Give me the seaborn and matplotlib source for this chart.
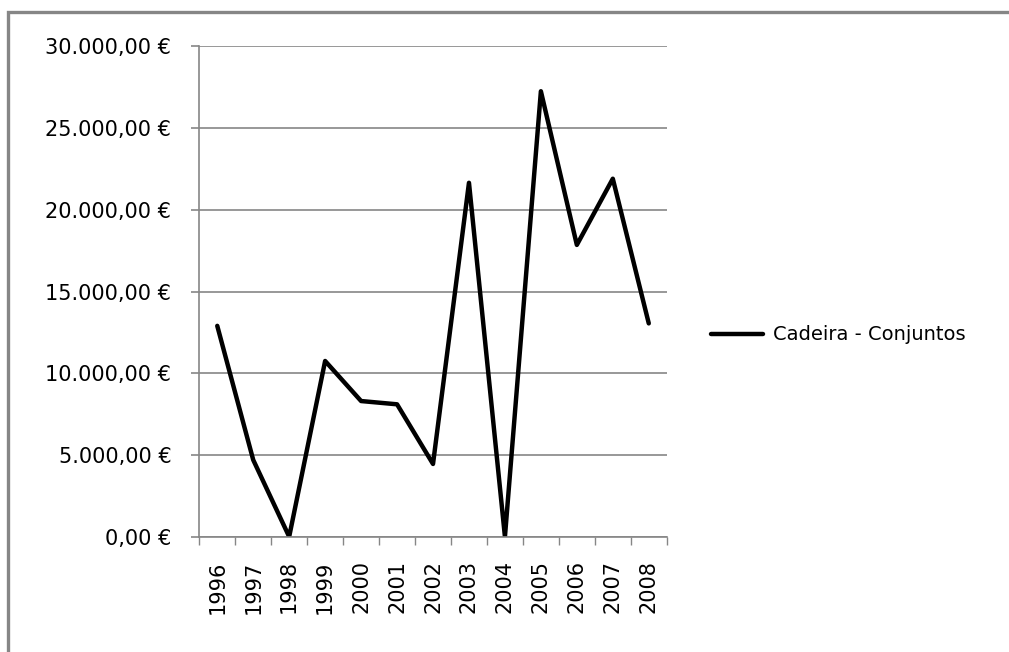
"""
Cadeira - Conjuntos: yearly values 1996-2008 (line chart, euro axis).
"""

import numpy as np
import pandas as pd
import matplotlib
matplotlib.use('Agg')
import matplotlib.pyplot as plt
from matplotlib.patches import Rectangle
from matplotlib.ticker import FuncFormatter
import seaborn as sns

years  = ["1996", "1997", "1998", "1999", "2000", "2001", "2002",
          "2003", "2004", "2005", "2006", "2007", "2008"]
values = [12900, 4700, 0, 10750, 8300, 8100, 4450,
          21650, 0, 27250, 17850, 21900, 13050]
series_name = "Cadeira - Conjuntos"
y_ticks = [0, 5000, 10000, 15000, 20000, 25000, 30000]

GRID = '#868686'


def euro_fmt(v, _pos):
    # 30000 -> "30.000,00 €"
    s = f"{v:,.2f}".replace(",", "X").replace(".", ",").replace("X", ".")
    return s + " €"


def main():
    sns.set_style("white")
    plt.rcParams['font.family'] = ['DejaVu Sans']
    plt.rcParams['text.color'] = 'black'

    df = pd.DataFrame({"Ano": years, "Valor": values})

    fig = plt.figure(figsize=(10.09, 6.52), dpi=100)
    ax = fig.add_axes([0.1975, 0.1768, 0.4633, 0.7522])

    sns.lineplot(data=df, x="Ano", y="Valor", ax=ax, color='black',
                 linewidth=3.2, label=series_name, sort=False)

    ax.set_xlim(-0.5, len(years) - 0.5)
    ax.set_ylim(0, 30000)
    ax.set_yticks(y_ticks)
    ax.yaxis.set_major_formatter(FuncFormatter(euro_fmt))
    ax.grid(axis='y', color=GRID, linewidth=1.2)
    ax.set_axisbelow(True)

    ax.set_xticks(range(len(years)))
    ax.set_xticklabels(years, rotation=90)
    ax.set_xticks(np.arange(-0.5, len(years), 1), minor=True)
    ax.tick_params(axis='x', which='major', length=0, pad=17,
                   labelsize=15, labelcolor='black')
    ax.tick_params(axis='x', which='minor', length=6, width=1.0,
                   color=GRID, direction='out', bottom=True)
    ax.tick_params(axis='y', length=6, width=1.2, color=GRID,
                   direction='out', left=True, pad=14, labelsize=15,
                   labelcolor='black')

    for side in ('top', 'right'):
        ax.spines[side].set_visible(False)
    for side in ('left', 'bottom'):
        ax.spines[side].set_color(GRID)
        ax.spines[side].set_linewidth(1.2)

    ax.set_xlabel("")
    ax.set_ylabel("")

    ax.get_legend().remove()
    handles, labels = ax.get_legend_handles_labels()
    fig.legend(handles, labels, loc='center left',
               bbox_to_anchor=(693 / 1009, 1 - 335 / 652), frameon=False,
               fontsize=14, handlelength=2.7, handletextpad=0.5,
               labelcolor='black')

    # outer chart border (only top and left edges are visible in the crop)
    fig.patches.append(Rectangle((8 / 1009, -0.1), 1.2, 1.1 - 12 / 652,
                                 transform=fig.transFigure, fill=False,
                                 edgecolor=GRID, linewidth=2.4, zorder=0))

    fig.savefig("out.png", dpi=100)
    plt.close(fig)


if __name__ == "__main__":
    main()
